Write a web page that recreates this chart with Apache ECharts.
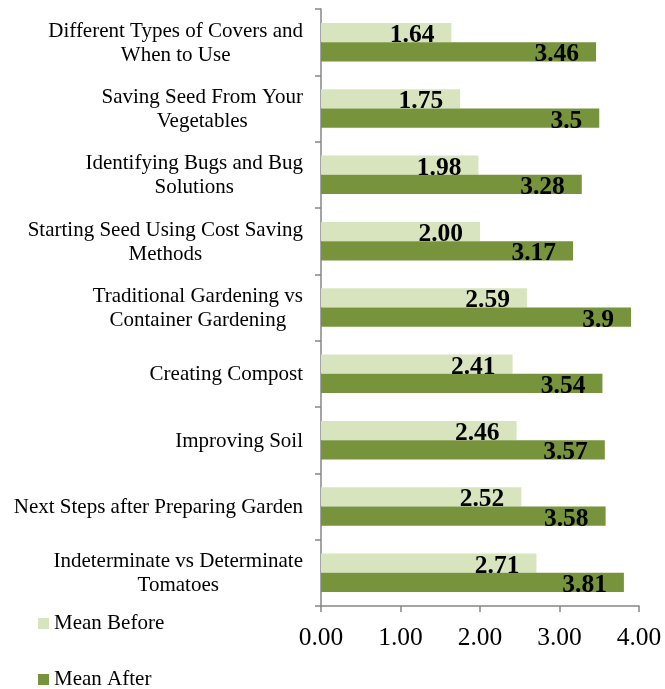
<!DOCTYPE html>
<html><head><meta charset="utf-8">
<script src="https://cdn.jsdelivr.net/npm/echarts@6/dist/echarts.min.js"></script>
<style>html,body{margin:0;padding:0;background:#fff}#c{width:665px;height:689px}</style>
</head><body><div id="c"></div>
<script>
const categories = [
  "Different Types of Covers and\nWhen to Use",
  "Saving Seed From Your\nVegetables",
  "Identifying Bugs and Bug\nSolutions",
  "Starting Seed Using Cost Saving\nMethods",
  "Traditional Gardening vs\nContainer Gardening",
  "Creating Compost",
  "Improving Soil",
  "Next Steps after Preparing Garden",
  "Indeterminate vs Determinate\nTomatoes"
];
const meanBefore = [1.64, 1.75, 1.98, 2.00, 2.59, 2.41, 2.46, 2.52, 2.71];
const meanBeforeText = ["1.64", "1.75", "1.98", "2.00", "2.59", "2.41", "2.46", "2.52", "2.71"];
const meanAfter = [3.46, 3.5, 3.28, 3.17, 3.9, 3.54, 3.57, 3.58, 3.81];
const meanAfterText = ["3.46", "3.5", "3.28", "3.17", "3.9", "3.54", "3.57", "3.58", "3.81"];
const xTicks = [0, 1, 2, 3, 4];
const seriesNames = ['Mean Before', 'Mean After'];

const FONT = '"Liberation Serif","Times New Roman",serif';
const chart = echarts.init(document.getElementById('c'));
function labelCfg(texts) {
  return {
    show: true, position: 'insideRight', distance: 17, offset: [0, 3],
    color: '#000', fontFamily: FONT, fontWeight: 'bold', fontSize: 25.5,
    formatter: p => texts[p.dataIndex]
  };
}
function legendCfg(name, top) {
  return {
    orient: 'vertical', left: 38, top: top, itemWidth: 11, itemHeight: 11, itemGap: 0,
    icon: 'rect', padding: 0,
    textStyle: { fontFamily: FONT, fontSize: 21, color: '#000' },
    data: [name]
  };
}
chart.setOption({
  animation: false,
  textStyle: { fontFamily: FONT },
  grid: { left: 321, right: 26, top: 9, bottom: 83, containLabel: false },
  legend: [legendCfg(seriesNames[0], 613), legendCfg(seriesNames[1], 669)],
  xAxis: {
    type: 'value', min: xTicks[0], max: xTicks[xTicks.length - 1], interval: 1,
    axisLine: { show: true, lineStyle: { color: '#868686', width: 1.5 } },
    axisTick: { show: true, length: 6, lineStyle: { color: '#868686', width: 1.5 } },
    splitLine: { show: false },
    axisLabel: { margin: 19, fontFamily: FONT, fontSize: 25.5, color: '#000', formatter: v => v.toFixed(2) }
  },
  yAxis: {
    type: 'category', inverse: true, data: categories,
    axisLine: { show: true, lineStyle: { color: '#868686', width: 1.5 } },
    axisTick: { show: true, length: 6, lineStyle: { color: '#868686', width: 1.5 } },
    axisLabel: {
      margin: 18, color: '#000', fontFamily: FONT, fontSize: 21, lineHeight: 24,
      formatter: v => v.split('\n').map(l => '{c|' + l + '}').join('\n'),
      rich: { c: { align: 'center', fontFamily: FONT, fontSize: 21, lineHeight: 24, color: '#000', padding: [2, 0, 0, 0] } }
    }
  },
  series: [
    { name: seriesNames[0], type: 'bar', data: meanBefore, barGap: '0%', barCategoryGap: '42%',
      itemStyle: { color: '#d7e4bd' }, label: labelCfg(meanBeforeText) },
    { name: seriesNames[1], type: 'bar', data: meanAfter, barGap: '0%', barCategoryGap: '42%',
      itemStyle: { color: '#77933c' }, label: labelCfg(meanAfterText) }
  ]
});
</script></body></html>
